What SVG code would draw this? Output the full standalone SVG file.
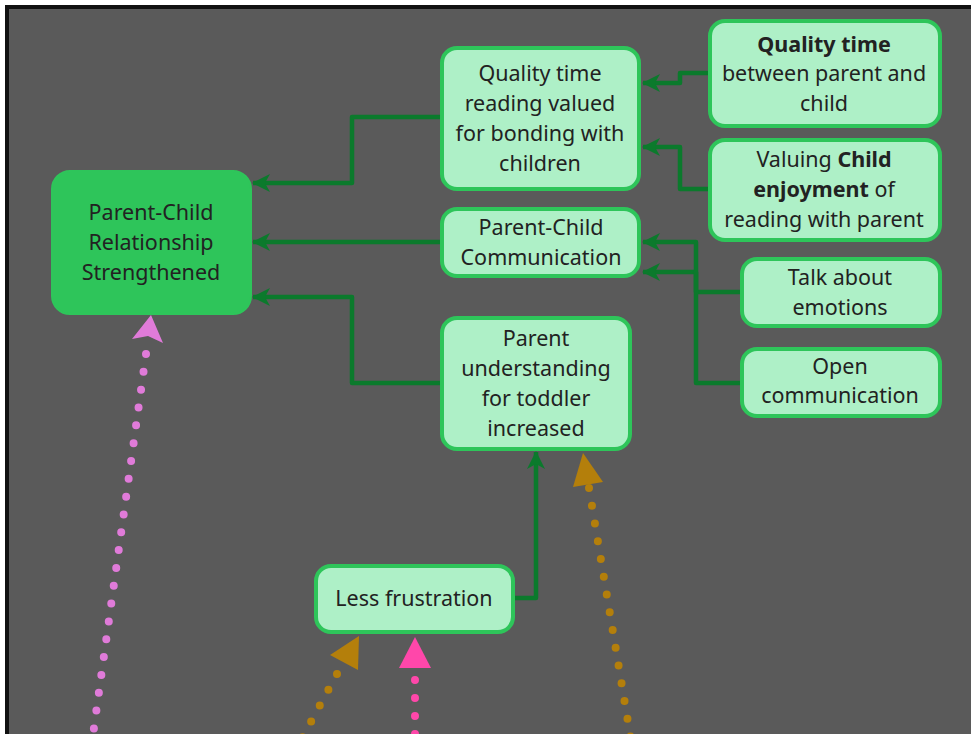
<svg xmlns="http://www.w3.org/2000/svg" width="971" height="734" viewBox="0 0 971 734">
<style>
.node rect{fill:#aef0c7;stroke:#2ec55a;stroke-width:4}
.main rect{fill:#2ec55a;stroke:#2ec55a;stroke-width:2}
text{font-family:"Noto Sans","Open Sans",sans-serif;font-size:21.5px;fill:#222;text-anchor:middle}
.b{font-weight:bold}
.g{fill:none;stroke:#0b7a2c;stroke-width:4.5;stroke-linejoin:round;marker-end:url(#ga)}
.dot{fill:none;stroke-width:8;stroke-linecap:round;stroke-dasharray:0 18}
</style>
<defs>
<marker id="ga" markerUnits="userSpaceOnUse" markerWidth="20" markerHeight="20" refX="17" refY="9" orient="auto">
<path d="M0,0 L18,9 L0,18 L5,9 z" fill="#0b7a2c"/>
</marker>
</defs>
<rect width="971" height="734" fill="#fff"/>
<rect x="5" y="5" width="980" height="740" fill="#111"/>
<rect x="9" y="9" width="980" height="740" fill="#5a5a5a"/>

<g id="connectors">
<path class="g" d="M442,117 H352 V183 H253"/>
<path class="g" d="M442,242 H253"/>
<path class="g" d="M442,383 H352 V297 H253"/>
<path class="g" d="M709,73 H680 V83 H643"/>
<path class="g" d="M709,189 H680 V147 H643"/>
<path class="g" d="M741,292 H696 V272 H643"/>
<path class="g" d="M741,383 H696 V242 H643"/>
<path class="g" d="M513,598 H536 V452"/>
<path class="dot" stroke="#e07bd9" d="M146,354 L92,742"/>
<polygon fill="#e07bd9" points="151,315 163,343 148,336 132,339"/>
<path class="dot" stroke="#ff47aa" d="M415,680 L415,742"/>
<polygon fill="#ff47aa" points="415,637 431,668 399,668"/>
<path class="dot" stroke="#b47f0b" d="M337,674 L301,740"/>
<polygon fill="#b47f0b" points="359,636 358,670 330,655"/>
<path class="dot" stroke="#b47f0b" d="M589,488 L631,740"/>
<polygon fill="#b47f0b" points="583,453 603,482 573,487"/>
</g>

<g id="main" class="main">
<rect x="52" y="171" width="199" height="143" rx="18"/>
<text x="151" y="220">Parent-Child</text>
<text x="151" y="250">Relationship</text>
<text x="151" y="280">Strengthened</text>
</g>

<g id="quality-reading" class="node">
<rect x="442" y="48" width="197" height="141" rx="15"/>
<text x="540" y="81">Quality time</text>
<text x="540" y="111">reading valued</text>
<text x="540" y="141">for bonding with</text>
<text x="540" y="171">children</text>
</g>

<g id="quality-time" class="node">
<rect x="710" y="21" width="230" height="105" rx="15"/>
<text x="824" y="52" class="b">Quality time</text>
<text x="824" y="81">between parent and</text>
<text x="824" y="111">child</text>
</g>

<g id="child-enjoyment" class="node">
<rect x="710" y="140" width="230" height="100" rx="15"/>
<text x="824" y="167">Valuing <tspan class="b">Child</tspan></text>
<text x="824" y="197"><tspan class="b">enjoyment</tspan> of</text>
<text x="824" y="227">reading with parent</text>
</g>

<g id="communication" class="node">
<rect x="442" y="209" width="197" height="67" rx="15"/>
<text x="541" y="235">Parent-Child</text>
<text x="541" y="265">Communication</text>
</g>

<g id="emotions" class="node">
<rect x="742" y="259" width="198" height="67" rx="15"/>
<text x="840" y="285">Talk about</text>
<text x="840" y="315">emotions</text>
</g>

<g id="open" class="node">
<rect x="742" y="349" width="198" height="67" rx="15"/>
<text x="840" y="374">Open</text>
<text x="840" y="403">communication</text>
</g>

<g id="understanding" class="node">
<rect x="442" y="318" width="188" height="131" rx="15"/>
<text x="536" y="346">Parent</text>
<text x="536" y="376">understanding</text>
<text x="536" y="406">for toddler</text>
<text x="536" y="436">increased</text>
</g>

<g id="frustration" class="node">
<rect x="316" y="566" width="197" height="66" rx="15"/>
<text x="414" y="606">Less frustration</text>
</g>
</svg>
